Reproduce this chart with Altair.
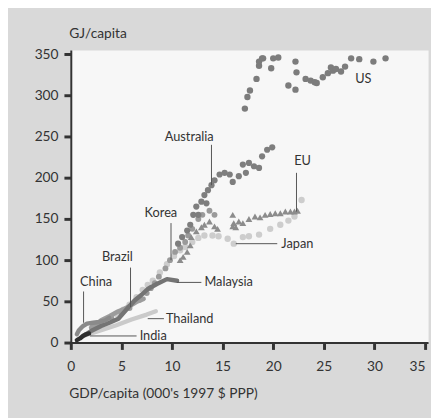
import altair as alt
import pandas as pd

# ---------------- data ----------------
us_x = [17.2, 17.45, 17.7, 18.35, 18.6, 18.6, 18.9, 19.0, 19.8, 20.0, 20.5, 21.5, 22.2, 22.2, 22.3,
        23.2, 23.7, 24.1, 24.3, 24.9, 25.4, 25.7, 25.9, 26.2, 26.7, 27.1, 27.7, 28.5, 29.9, 31.1]
us_y = [284, 298, 306, 320, 336, 341, 345, 345, 333, 345, 346, 312, 307, 341, 328,
        320, 318, 316, 315, 322, 327, 334, 330, 332, 329, 335, 345, 344, 341, 345]

aus_x = [10.6, 11.0, 11.5, 11.8, 12.1, 12.4, 12.9, 13.2, 13.55, 13.9, 14.2, 14.7, 15.2, 15.7, 16.0,
         16.6, 17.0, 17.3, 17.6, 18.1, 18.6, 18.9, 19.4, 19.9, 13.4, 12.6]
aus_y = [120, 128, 136, 143, 155, 165, 171, 179, 185, 191, 197, 204, 206, 204, 195,
         202, 216, 206, 218, 214, 212, 226, 234, 237, 169, 155]

korea_x = [2.2, 3.0, 4.0, 5.0, 5.8, 6.8, 7.5, 7.9, 8.3, 8.7, 9.35, 9.8, 10.3, 10.8, 11.3, 11.6,
           12.0, 12.6, 13.0, 13.7, 14.2]
korea_y = [20, 24, 30, 36, 42, 52, 60, 66, 72, 80, 90, 100, 110, 115, 122, 130,
           138, 150, 155, 160, 155]

eu_x = [10.8, 11.1, 11.5, 11.8, 11.9, 12.4, 12.9, 13.2, 13.7, 14.2, 14.5, 16.0, 16.0, 16.1, 16.3,
        16.6, 17.0, 17.6, 18.2, 18.7, 19.2, 19.7, 20.2, 20.7, 21.2, 21.7, 22.1, 22.4]
eu_y = [100, 104, 110, 118, 128, 135, 140, 143, 147, 141, 138, 141, 155, 145, 140,
        147, 145, 150, 153, 152, 155, 156, 157, 157, 159, 159, 159, 160]

japan_x = [4.5, 5.2, 5.8, 6.5, 7.1, 7.6, 8.1, 8.8, 9.5, 10.2, 10.8, 11.3, 12.0, 12.6, 13.2, 14.0,
           14.6, 15.5, 16.1, 17.0, 17.6, 18.6, 19.7, 20.7, 21.5, 22.1, 22.8]
japan_y = [35, 40, 46, 55, 64, 70, 75, 85, 95, 105, 112, 116, 122, 127, 130, 130,
           129, 126, 120, 128, 129, 131, 138, 143, 148, 153, 173]

china_x = [0.6, 0.8, 1.2, 1.6, 2.2, 2.8, 3.4, 3.8]
china_y = [10, 15, 20, 23, 24, 25, 27, 30]

brazil_x = [2.0, 2.5, 3.0, 3.8, 4.7, 5.3, 5.9, 6.6, 7.2]
brazil_y = [18, 22, 27, 32, 38, 41, 45, 50, 53]

malaysia_x = [1.5, 2.0, 3.0, 3.8, 4.7, 5.5, 6.3, 7.0, 7.6, 8.5, 9.5, 10.5]
malaysia_y = [10, 14, 20, 24, 29, 40, 51, 58, 65, 71, 77, 75]

thailand_x = [1.2, 2.0, 3.0, 4.5, 6.0, 7.5, 8.4]
thailand_y = [8, 11, 15, 21, 28, 34, 38]

india_x = [0.6, 0.9, 1.2, 1.5, 1.8]
india_y = [3, 5, 8, 10, 11]

label_text = ["US", "Australia", "EU", "Japan", "Korea", "Brazil", "China", "Malaysia", "Thailand", "India"]
label_x = [28.1, 11.7, 22.9, 20.8, 8.9, 4.6, 2.5, 13.2, 9.4, 6.8]
label_y = [320, 250, 220, 120, 157, 104, 73, 73, 29, 8]
label_align = ["left", "center", "center", "left", "center", "center", "center", "left", "left", "left"]

lead_x = [13.9, 22.3, 16.3, 9.9, 5.9, 1.26, 10.5, 7.6, 1.9]
lead_x2 = [13.9, 22.3, 20.4, 9.9, 5.9, 1.26, 12.9, 9.2, 6.5]
lead_y = [240, 206, 120, 145, 91, 62, 73, 29, 8]
lead_y2 = [191, 159, 120, 100, 43, 24, 73, 29, 8]

x_ticks = [0, 5, 10, 15, 20, 25, 30, 35]
y_ticks = [0, 50, 100, 150, 200, 250, 300, 350]

FONT = "Lato"
TXT = "#333333"


def frame(xs, ys):
    return pd.DataFrame({"x": xs, "y": ys, "o": list(range(len(xs)))})


X = alt.X("x:Q", scale=alt.Scale(domain=[0, 35.3], nice=False, zero=False),
          axis=alt.Axis(values=x_ticks, title="GDP/capita (000's 1997 $ PPP)"))
Y = alt.Y("y:Q", scale=alt.Scale(domain=[0, 355], nice=False),
          axis=alt.Axis(values=y_ticks, title="GJ/capita"))


def dots(xs, ys, color, size=38, shape="circle"):
    return alt.Chart(frame(xs, ys)).mark_point(
        filled=True, shape=shape, size=size, color=color, opacity=1
    ).encode(x=X, y=Y)


def line(xs, ys, color, width=4.5):
    return alt.Chart(frame(xs, ys)).mark_line(
        color=color, strokeWidth=width, strokeCap="round", strokeJoin="round"
    ).encode(x=X, y=Y, order="o:Q")


layers = [
    dots(japan_x, japan_y, "#cdcdcd", 42),
    dots(korea_x, korea_y, "#9a9a9a", 36),
    dots(eu_x, eu_y, "#8c8c8c", 48, "triangle-up"),
    dots(aus_x, aus_y, "#7e7e7e", 40),
    dots(us_x, us_y, "#7c7c7c", 42),
    line(thailand_x, thailand_y, "#cacaca"),
    line(brazil_x, brazil_y, "#9c9c9c"),
    line(malaysia_x, malaysia_y, "#747474"),
    line(china_x, china_y, "#8a8a8a"),
    line(india_x, india_y, "#2f2f2f"),
]

lead_df = pd.DataFrame({"x": lead_x, "x2": lead_x2, "y": lead_y, "y2": lead_y2})
layers.append(
    alt.Chart(lead_df).mark_rule(color="#555555", strokeWidth=1).encode(
        x=X, x2="x2:Q", y=Y, y2="y2:Q")
)

lab_df = pd.DataFrame({"x": label_x, "y": label_y, "t": label_text, "a": label_align})
for al in ["left", "center"]:
    layers.append(
        alt.Chart(lab_df[lab_df["a"] == al]).mark_text(
            align=al, baseline="middle", font=FONT, fontSize=13, color=TXT
        ).encode(x=X, y=Y, text="t:N")
    )

chart = alt.layer(*layers).properties(
    width=364, height=298,
    autosize=alt.AutoSizeParams(type="none"),
    padding={"left": 64, "top": 39, "right": 3, "bottom": 73},
).configure(background="#d9d9d9", font=FONT).configure_view(
    fill="#f7f7f7", stroke="transparent"
).configure_axis(
    domainColor="#333333", domainWidth=2, tickColor="#333333", tickWidth=3, tickSize=7,
    labelFont=FONT, labelFontSize=14, labelColor=TXT, grid=False,
    titleFont=FONT, titleFontSize=14, titleFontWeight="normal", titleColor=TXT,
    labelPadding=6,
).configure_axisX(
    titleAngle=0, titleAlign="left", titleX=-2, titleY=52, titleBaseline="middle",
    labelPadding=10,
    labelAlign={"expr": "datum.value == 35 ? 'right' : 'center'"},
).configure_axisY(
    titleAngle=0, titleAlign="left", titleX=-2, titleY=-17, titleBaseline="middle"
)

chart.save("out.html", embed_options={"renderer": "svg", "actions": False})
